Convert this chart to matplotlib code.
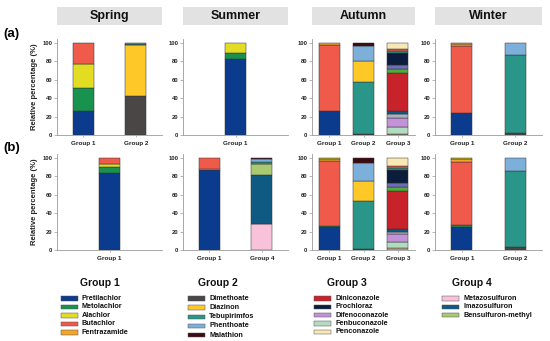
import matplotlib
matplotlib.use("Agg")
import matplotlib.pyplot as plt
from matplotlib.patches import Rectangle

plt.rcParams['font.family'] = ['Liberation Sans', 'DejaVu Sans']
plt.rcParams['font.weight'] = 'bold'

# ---------------- data ----------------
seasons = ["Spring", "Summer", "Autumn", "Winter"]

legend_groups = ["Group 1", "Group 2", "Group 3", "Group 4"]
group1_compounds = ["Pretilachlor", "Metolachlor", "Alachlor", "Butachlor", "Fentrazamide"]
group2_compounds = ["Dimethoate", "Diazinon", "Tebupirimfos", "Phenthoate", "Malathion"]
group3_compounds = ["Diniconazole", "Prochloraz", "Difenoconazole", "Fenbuconazole", "Penconazole"]
group4_compounds = ["Metazosulfuron", "Imazosulfuron", "Bensulfuron-methyl"]

colors = {
    "Pretilachlor": "#0b3b8c", "Metolachlor": "#17924f", "Alachlor": "#e2dc22",
    "Butachlor": "#ef5a4a", "Fentrazamide": "#f4a428",
    "Dimethoate": "#4a4646", "Diazinon": "#fdc828", "Tebupirimfos": "#2a968a",
    "Phenthoate": "#7cb0da", "Malathion": "#3c0a12",
    "Diniconazole": "#c8232b", "Prochloraz": "#0b1c3c", "Difenoconazole": "#c293d9",
    "Fenbuconazole": "#b1dcc1", "Penconazole": "#f8e9b4",
    "Metazosulfuron": "#f8c2da", "Imazosulfuron": "#0f5a82", "Bensulfuron-methyl": "#a9c973",
    # minor compounds not listed in the legend
    "Other A": "#6e6cb4", "Other B": "#4fae3a", "Other C": "#c9b98f", "Other D": "#a9b4c2",
}

# row (a)
a_spring_labels = ["Group 1", "Group 2"]
a_spring_bars = [
    {"Pretilachlor": 26, "Metolachlor": 25, "Alachlor": 26, "Butachlor": 23},
    {"Dimethoate": 42, "Diazinon": 56, "Tebupirimfos": 1, "Phenthoate": 1},
]
a_summer_labels = ["Group 1"]
a_summer_bars = [
    {"Pretilachlor": 83, "Metolachlor": 6, "Alachlor": 11},
]
a_autumn_labels = ["Group 1", "Group 2", "Group 3"]
a_autumn_bars = [
    {"Pretilachlor": 26, "Butachlor": 72, "Fentrazamide": 2},
    {"Dimethoate": 1, "Tebupirimfos": 57, "Diazinon": 22, "Phenthoate": 17, "Malathion": 3},
    {"Other C": 1, "Fenbuconazole": 8, "Difenoconazole": 10, "Other D": 4, "Imazosulfuron": 3,
     "Diniconazole": 41, "Other B": 5, "Other A": 4, "Prochloraz": 13, "Tebupirimfos": 2,
     "Butachlor": 2, "Penconazole": 7},
]
a_winter_labels = ["Group 1", "Group 2"]
a_winter_bars = [
    {"Pretilachlor": 24, "Butachlor": 73, "Fentrazamide": 2, "Alachlor": 1},
    {"Dimethoate": 2, "Tebupirimfos": 85, "Phenthoate": 13},
]

# row (b)
b_spring_labels = ["Group 1"]
b_spring_bars = [
    {"Pretilachlor": 84, "Metolachlor": 6, "Alachlor": 4, "Butachlor": 6},
]
b_summer_labels = ["Group 1", "Group 4"]
b_summer_bars = [
    {"Pretilachlor": 87, "Alachlor": 1.5, "Butachlor": 11.5},
    {"Metazosulfuron": 28, "Imazosulfuron": 53, "Bensulfuron-methyl": 13, "Tebupirimfos": 2,
     "Phenthoate": 3, "Malathion": 1},
]
b_autumn_labels = ["Group 1", "Group 2", "Group 3"]
b_autumn_bars = [
    {"Pretilachlor": 25.5, "Metolachlor": 1, "Butachlor": 70.5, "Fentrazamide": 2, "Alachlor": 1},
    {"Dimethoate": 1, "Tebupirimfos": 52.5, "Diazinon": 22, "Phenthoate": 19.5, "Malathion": 5},
    {"Other C": 2, "Fenbuconazole": 7, "Difenoconazole": 8, "Other D": 3, "Imazosulfuron": 3,
     "Diniconazole": 41.5, "Other B": 4.3, "Other A": 3.7, "Prochloraz": 14, "Tebupirimfos": 2.3,
     "Butachlor": 2.5, "Penconazole": 8.7},
]
b_winter_labels = ["Group 1", "Group 2"]
b_winter_bars = [
    {"Pretilachlor": 25, "Metolachlor": 2, "Butachlor": 69, "Fentrazamide": 3, "Alachlor": 1},
    {"Dimethoate": 3, "Tebupirimfos": 83, "Phenthoate": 14},
]

rows = [
    [(a_spring_labels, a_spring_bars), (a_summer_labels, a_summer_bars),
     (a_autumn_labels, a_autumn_bars), (a_winter_labels, a_winter_bars)],
    [(b_spring_labels, b_spring_bars), (b_summer_labels, b_summer_bars),
     (b_autumn_labels, b_autumn_bars), (b_winter_labels, b_winter_bars)],
]

# ---------------- layout ----------------
W, H = 550, 341
fig = plt.figure(figsize=(W / 100, H / 100), dpi=100)

def fx(px):
    return px / W

def fy(py):
    return 1 - py / H

panel_x = [(57, 162), (183, 288), (312, 415), (435, 542)]
row_zero = [135, 250]
px_per_pct = 0.92
ytop = 104
spine_col = "#9a9a9a"
text_col = "#222222"

for r, row in enumerate(rows):
    for c, (labels, bars) in enumerate(row):
        x0, x1 = panel_x[c]
        y0 = row_zero[r]
        hpx = ytop * px_per_pct
        ax = fig.add_axes([fx(x0), fy(y0), (x1 - x0) / W, hpx / H])
        n = len(labels)
        if n == 1:
            ax.set_xlim(-1, 1)
            width = 0.4
        else:
            ax.set_xlim(-0.5, n - 0.5)
            width = 21.0 / ((x1 - x0) / n)
        for i, bar in enumerate(bars):
            bottom = 0
            for comp, val in bar.items():
                ax.bar(i, val, width=width, bottom=bottom, color=colors[comp],
                       edgecolor="#333333", linewidth=0.35, zorder=2)
                bottom += val
        ax.set_ylim(0, ytop)
        ax.set_yticks([0, 20, 40, 60, 80, 100])
        ax.set_xticks(range(n))
        ax.set_xticklabels(labels)
        for s in ["top", "right"]:
            ax.spines[s].set_visible(False)
        for s in ["left", "bottom"]:
            ax.spines[s].set_color(spine_col)
            ax.spines[s].set_linewidth(0.6)
        ax.tick_params(axis="y", labelsize=4.2, length=2, width=0.5, color=spine_col,
                       labelcolor=text_col, pad=1.5)
        ax.tick_params(axis="x", labelsize=4.6, length=1.5, width=0.5, color=spine_col,
                       labelcolor=text_col, pad=3)
        for lab in ax.get_xticklabels() + ax.get_yticklabels():
            lab.set_fontweight("bold")
        ax.set_facecolor("none")
        if c == 0:
            ax.set_ylabel("Relative percentage (%)", fontsize=5.5, fontweight="bold",
                          color=text_col, labelpad=3)

# season strips
for c, name in enumerate(seasons):
    x0, x1 = panel_x[c]
    sx = fig.add_axes([fx(x0), fy(25), (x1 - x0) / W, 18 / H])
    sx.set_facecolor("#e2e2e2")
    sx.set_xticks([]); sx.set_yticks([])
    for s in sx.spines.values():
        s.set_visible(False)
    sx.text(0.5, 0.5, name, ha="center", va="center", fontsize=9, fontweight="bold",
            color="#111111", transform=sx.transAxes)

# panel labels
fig.text(fx(3), fy(34), "(a)", fontsize=9.5, fontweight="bold", va="center", ha="left")
fig.text(fx(3), fy(148), "(b)", fontsize=9.5, fontweight="bold", va="center", ha="left")

# legend blocks
legend_lists = [group1_compounds, group2_compounds, group3_compounds, group4_compounds]
title_x = [100, 218, 347, 472]
patch_x = [61, 188, 314, 442]
entry_gap = [8.5, 9.2, 8.4, 8.4]
for g, comps in enumerate(legend_lists):
    fig.text(fx(title_x[g]), fy(283), legend_groups[g], fontsize=7.5, fontweight="bold",
             ha="center", va="center", color="#111111")
    for k, comp in enumerate(comps):
        yc = 298.3 + k * entry_gap[g]
        rect = Rectangle((fx(patch_x[g]), fy(yc + 2.2)), 17 / W, 4.4 / H,
                         transform=fig.transFigure, facecolor=colors[comp],
                         edgecolor="#555555", linewidth=0.35)
        fig.patches.append(rect)
        fig.text(fx(patch_x[g] + 21), fy(yc), comp, fontsize=5.2, fontweight="bold",
                 ha="left", va="center", color="#111111")

fig.savefig("out.png", dpi=100)
